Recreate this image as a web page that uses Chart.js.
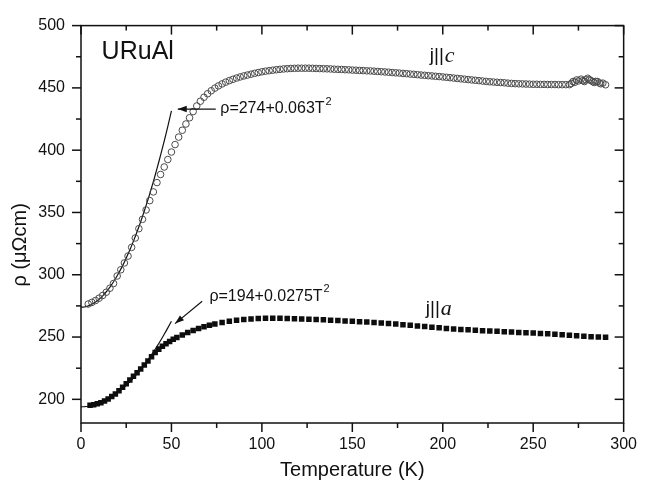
<!DOCTYPE html>
<html>
<head>
<meta charset="utf-8">
<script src="https://cdn.jsdelivr.net/npm/chart.js@4.4.1/dist/chart.umd.min.js"></script>
<style>
  html, body { margin: 0; padding: 0; background: #fff; }
  #wrap { width: 649px; height: 494px; }
</style>
</head>
<body>
<div id="wrap"><canvas id="c" width="649" height="494"></canvas></div>
<script>
// Resistivity of URuAl, current along c (open circles)
const tempC = [4,6,8,10,12,14,16,18,20,22,24,26,28,30,32,34,36,38,40,42,44,46,48,50,52,54,56,58,60,62,64,66,68,70,72,74,76,78,80,82,84,86,88,90,92,94,96,98,100,102,104,106,108,110,112,114,116,118,120,122,124,126,128,130,132,134,136,138,140,142,144,146,148,150,152,154,156,158,160,162,164,166,168,170,172,174,176,178,180,182,184,186,188,190,192,194,196,198,200,202,204,206,208,210,212,214,216,218,220,222,224,226,228,230,232,234,236,238,240,242,244,246,248,250,252,254,256,258,260,262,264,266,268,270,271,272,273,274,275,276.5,277.5,278.3,279,280.1,281,281.9,283,283.7,284.5,285.5,286.5,287.3,288.5,290];
const rhoC = [276.5,277.8,279.3,281.2,283.4,286.0,289.2,293.0,299.0,304.0,309.5,315.0,322.0,329.5,337.0,344.5,352.0,359.5,366.5,374.0,380.5,386.5,392.5,398.5,404.5,410.5,416.0,421.0,426.0,431.0,435.5,439.3,442.5,445.3,447.7,449.8,451.6,453.2,454.6,455.8,456.9,457.9,458.8,459.6,460.3,461.0,461.7,462.3,462.9,463.4,463.8,464.2,464.6,464.9,465.2,465.4,465.6,465.7,465.8,465.8,465.8,465.8,465.7,465.6,465.5,465.4,465.3,465.2,465.0,464.9,464.8,464.6,464.5,464.3,464.2,464.0,463.9,463.7,463.6,463.4,463.2,463.0,462.8,462.6,462.3,462.1,461.9,461.6,461.4,461.1,460.9,460.6,460.3,460.1,459.8,459.6,459.3,459.1,458.8,458.5,458.2,457.9,457.6,457.3,457.0,456.7,456.4,456.1,455.8,455.5,455.2,454.9,454.7,454.5,454.3,454.1,453.8,453.6,453.4,453.3,453.2,453.1,453.0,452.9,452.9,452.8,452.8,452.7,452.7,452.7,452.6,452.6,452.6,452.6,453.5,455.1,454.5,456.4,455.6,457.0,455.8,455.1,456.5,457.7,456.6,455.9,455.0,454.3,455.2,455.1,454.0,453.3,453.8,452.5];

// Resistivity of URuAl, current along a (filled squares)
const tempA = [5,7,9,11,13,15,17,19,21,23,25,27,29,31,33,35,37,39,41,43,45,47,49,51,53,56,59,62,65,68,71,74,78,82,86,90,94,98,102,106,110,114,118,122,126,130,134,138,142,146,150,154,158,162,166,170,174,178,182,186,190,194,198,202,206,210,214,218,222,226,230,234,238,242,246,250,254,258,262,266,270,274,278,282,286,290];
const rhoA = [195.3,195.7,196.4,197.3,198.6,200.3,202.2,204.3,206.8,209.7,212.6,215.5,218.5,221.4,224.4,227.6,230.8,234.2,237.6,240.3,242.6,244.6,246.5,248.2,249.7,251.7,253.6,255.3,256.9,258.3,259.5,260.5,261.6,262.6,263.4,264.0,264.5,264.8,265.0,265.0,265.0,264.9,264.7,264.5,264.3,264.1,263.8,263.5,263.2,262.9,262.6,262.3,262.0,261.6,261.3,260.9,260.4,259.9,259.4,258.9,258.4,257.9,257.4,256.9,256.5,256.1,255.8,255.4,255.1,254.8,254.6,254.3,254.0,253.7,253.4,253.2,252.9,252.6,252.2,251.8,251.4,251.0,250.6,250.3,250.1,249.9];

// Low-temperature fits rho = rho0 + A*T^2, valid up to fitTmax
const fitC = { rho0: 274, A: 0.063 };
const fitA = { rho0: 194, A: 0.0275 };
const fitTmax = 50;

// Axis ranges and tick values
const xTicks = [0, 50, 100, 150, 200, 250, 300];
const yTicks = [200, 250, 300, 350, 400, 450, 500];
const minorStep = 25;
const xRange = [0, 300];
const yRange = [181, 500];

function fitPoints(f) {
  const pts = [];
  for (let t = 0; t <= fitTmax; t += 1) pts.push({ x: t, y: f.rho0 + f.A * t * t });
  return pts;
}
const zip = (xs, ys) => xs.map((v, i) => ({ x: v, y: ys[i] }));

const INK = '#111';
const SANS = '"Liberation Sans", Arial, Helvetica, sans-serif';
const SERIF = '"Liberation Serif", "Times New Roman", serif';

// Frame with inward ticks on top/right and outward ticks on bottom/left
const framePlugin = {
  id: 'frame',
  afterDraw(chart) {
    const { ctx, chartArea: a, scales: { x, y } } = chart;
    ctx.save();
    ctx.strokeStyle = INK;
    ctx.lineWidth = 1.5;
    ctx.strokeRect(a.left, a.top, a.right - a.left, a.bottom - a.top);
    const seg = (x1, y1, x2, y2) => { ctx.beginPath(); ctx.moveTo(x1, y1); ctx.lineTo(x2, y2); ctx.stroke(); };
    for (let v = xRange[0]; v <= xRange[1]; v += minorStep) {
      const L = xTicks.includes(v) ? 9 : 5;
      const px = x.getPixelForValue(v);
      seg(px, a.bottom, px, a.bottom + L);
      seg(px, a.top, px, a.top + L);
    }
    for (let v = 200; v <= yRange[1]; v += minorStep) {
      const L = yTicks.includes(v) ? 9 : 5;
      const py = y.getPixelForValue(v);
      seg(a.left, py, a.left - L, py);
      seg(a.right, py, a.right - L, py);
    }
    ctx.restore();
  }
};

// Text labels and fit arrows, placed in data coordinates
function arrow(ctx, x1, y1, x2, y2) {
  const ang = Math.atan2(y2 - y1, x2 - x1);
  ctx.beginPath(); ctx.moveTo(x1, y1); ctx.lineTo(x2, y2); ctx.stroke();
  const h = 9, w = 3.2;
  ctx.beginPath();
  ctx.moveTo(x2, y2);
  ctx.lineTo(x2 - h * Math.cos(ang) + w * Math.sin(ang), y2 - h * Math.sin(ang) - w * Math.cos(ang));
  ctx.lineTo(x2 - h * Math.cos(ang) - w * Math.sin(ang), y2 - h * Math.sin(ang) + w * Math.cos(ang));
  ctx.closePath(); ctx.fill();
}

function fitLabel(f) {
  return '\u03C1=' + f.rho0 + '+' + f.A + 'T';
}

const labelPlugin = {
  id: 'labels',
  afterDraw(chart) {
    const { ctx, scales: { x, y } } = chart;
    const X = v => x.getPixelForValue(v), Y = v => y.getPixelForValue(v);
    ctx.save();
    ctx.fillStyle = INK; ctx.strokeStyle = INK; ctx.lineWidth = 1.2;
    ctx.textBaseline = 'middle'; ctx.textAlign = 'left';

    // compound name
    ctx.font = '25px ' + SANS;
    ctx.fillText('URuAl', X(11.4), Y(479));

    // y-axis title
    ctx.save();
    ctx.translate(20, Y(324));
    ctx.rotate(-Math.PI / 2);
    ctx.textAlign = 'center';
    ctx.font = '20px ' + SANS;
    ctx.fillText('\u03C1 (\u03BC\u03A9cm)', 0, 0);
    ctx.restore();

    // fit annotations
    const drawFit = (f, tx, ty) => {
      ctx.font = '16px ' + SANS;
      const s = fitLabel(f);
      ctx.fillText(s, X(tx), Y(ty));
      const w = ctx.measureText(s).width;
      ctx.font = '11px ' + SANS;
      ctx.fillText('2', X(tx) + w + 1, Y(ty) - 7);
    };
    drawFit(fitC, 77, 433);
    arrow(ctx, X(74.5), Y(433), X(53.5), Y(433));
    drawFit(fitA, 71, 282.8);
    arrow(ctx, X(67), Y(278.8), X(52), Y(260.8));

    // current direction labels
    const dirLabel = (axis, tx, ty) => {
      ctx.font = '19px ' + SANS;
      const base = 'j||';
      ctx.fillText(base, X(tx), Y(ty));
      const w = ctx.measureText(base).width;
      ctx.font = 'italic 22px ' + SERIF;
      ctx.fillText(axis, X(tx) + w + 1, Y(ty) + 1);
    };
    dirLabel('c', 192.8, 476);
    dirLabel('a', 190.6, 273);
    ctx.restore();
  }
};

new Chart(document.getElementById('c'), {
  type: 'scatter',
  data: {
    datasets: [
      {
        label: 'j||c',
        data: zip(tempC, rhoC),
        pointStyle: 'circle',
        pointRadius: 3.3,
        pointBorderWidth: 1,
        pointBorderColor: '#4a4a4a',
        pointBackgroundColor: 'rgba(255,255,255,0)',
        showLine: false
      },
      {
        label: 'j||a',
        data: zip(tempA, rhoA),
        pointStyle: 'rect',
        pointRadius: 3.9,
        pointBorderWidth: 0,
        pointBackgroundColor: '#0d0d0d',
        pointBorderColor: '#0d0d0d',
        showLine: false
      },
      {
        label: 'fit c',
        data: fitPoints(fitC),
        showLine: true,
        pointRadius: 0,
        borderColor: INK,
        borderWidth: 1.2,
        tension: 0
      },
      {
        label: 'fit a',
        data: fitPoints(fitA),
        showLine: true,
        pointRadius: 0,
        borderColor: INK,
        borderWidth: 1.2,
        tension: 0
      }
    ]
  },
  options: {
    responsive: false,
    animation: false,
    layout: { padding: { top: 14, right: 14, left: 0, bottom: 0 } },
    plugins: { legend: { display: false }, tooltip: { enabled: false } },
    scales: {
      x: {
        type: 'linear',
        min: xRange[0], max: xRange[1],
        afterBuildTicks: s => { s.ticks = xTicks.map(v => ({ value: v })); },
        afterFit: s => { s.height = 71; },
        grid: { display: false, drawTicks: false },
        border: { display: false },
        ticks: { padding: 12, color: INK, font: { family: SANS, size: 16 }, maxRotation: 0 },
        title: { display: true, text: 'Temperature (K)', color: INK, font: { family: SANS, size: 20 }, padding: { top: 0, bottom: 12 } }
      },
      y: {
        type: 'linear',
        min: yRange[0], max: yRange[1],
        afterBuildTicks: s => { s.ticks = yTicks.map(v => ({ value: v })); },
        afterFit: s => { s.width = 81; },
        grid: { display: false, drawTicks: false },
        border: { display: false },
        ticks: { padding: 16, color: INK, font: { family: SANS, size: 16 } }
      }
    }
  },
  plugins: [framePlugin, labelPlugin]
});
</script>
</body>
</html>
